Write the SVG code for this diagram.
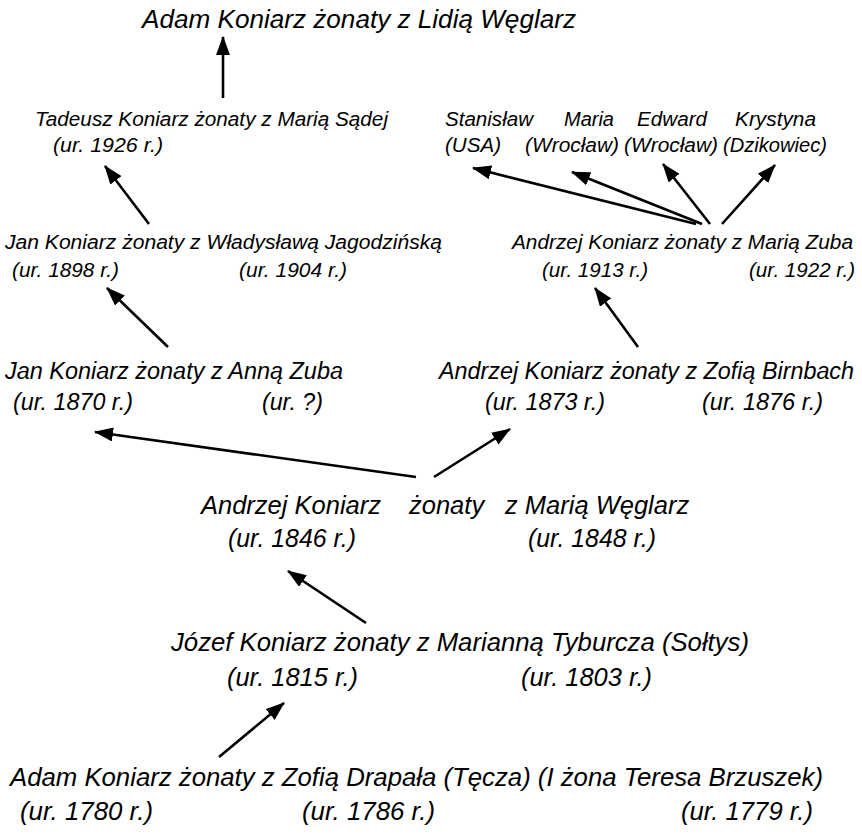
<svg xmlns="http://www.w3.org/2000/svg" width="862" height="834" viewBox="0 0 862 834">
  <style>
    text { font-family: "Liberation Sans", Arial, sans-serif; font-style: italic; fill: #000; }
    .s26 { font-size: 26px; }
    .s21 { font-size: 20.5px; }
    .s23 { font-size: 23px; }
    .s25 { font-size: 25.5px; }
    .edge { stroke: #000; stroke-width: 2.6; fill: none; marker-end: url(#arrow); }
  </style>
  <defs>
    <marker id="arrow" markerUnits="userSpaceOnUse" markerWidth="19" markerHeight="14" refX="18" refY="7" orient="auto">
      <path d="M0,0 L19,7 L0,14 z" fill="#000"/>
    </marker>
  </defs>
  <rect width="862" height="834" fill="#fff"/>

  <g id="adam-lidia">
    <text class="s26" x="142" y="28" textLength="434" lengthAdjust="spacingAndGlyphs">Adam Koniarz żonaty z Lidią Węglarz</text>
  </g>

  <g id="tadeusz">
    <text class="s21" x="35" y="126" textLength="353" lengthAdjust="spacingAndGlyphs">Tadeusz Koniarz żonaty z Marią Sądej</text>
    <text class="s21" x="53" y="152" textLength="110" lengthAdjust="spacingAndGlyphs">(ur. 1926 r.)</text>
  </g>

  <g id="stanislaw">
    <text class="s21" x="445" y="126" textLength="88" lengthAdjust="spacingAndGlyphs">Stanisław</text>
    <text class="s21" x="445" y="152" textLength="56" lengthAdjust="spacingAndGlyphs">(USA)</text>
  </g>
  <g id="maria">
    <text class="s21" x="564" y="126" textLength="50" lengthAdjust="spacingAndGlyphs">Maria</text>
    <text class="s21" x="525" y="152" textLength="94" lengthAdjust="spacingAndGlyphs">(Wrocław)</text>
  </g>
  <g id="edward">
    <text class="s21" x="637" y="126" textLength="70" lengthAdjust="spacingAndGlyphs">Edward</text>
    <text class="s21" x="624" y="152" textLength="94" lengthAdjust="spacingAndGlyphs">(Wrocław)</text>
  </g>
  <g id="krystyna">
    <text class="s21" x="735" y="126" textLength="81" lengthAdjust="spacingAndGlyphs">Krystyna</text>
    <text class="s21" x="723" y="152" textLength="104" lengthAdjust="spacingAndGlyphs">(Dzikowiec)</text>
  </g>

  <g id="jan-wladyslawa">
    <text class="s21" x="5" y="249" textLength="437" lengthAdjust="spacingAndGlyphs">Jan Koniarz żonaty z Władysławą Jagodzińską</text>
    <text class="s21" x="12" y="277" textLength="107" lengthAdjust="spacingAndGlyphs">(ur. 1898 r.)</text>
    <text class="s21" x="239" y="277" textLength="108" lengthAdjust="spacingAndGlyphs">(ur. 1904 r.)</text>
  </g>

  <g id="andrzej-zuba">
    <text class="s21" x="512" y="249" textLength="341" lengthAdjust="spacingAndGlyphs">Andrzej Koniarz żonaty z Marią Zuba</text>
    <text class="s21" x="542" y="277" textLength="106" lengthAdjust="spacingAndGlyphs">(ur. 1913 r.)</text>
    <text class="s21" x="749" y="277" textLength="106" lengthAdjust="spacingAndGlyphs">(ur. 1922 r.)</text>
  </g>

  <g id="jan-anna">
    <text class="s23" x="5" y="379" textLength="338" lengthAdjust="spacingAndGlyphs">Jan Koniarz żonaty z Anną Zuba</text>
    <text class="s23" x="13" y="410" textLength="120" lengthAdjust="spacingAndGlyphs">(ur. 1870 r.)</text>
    <text class="s23" x="262" y="410" textLength="61" lengthAdjust="spacingAndGlyphs">(ur. ?)</text>
  </g>

  <g id="andrzej-birnbach">
    <text class="s23" x="439" y="379" textLength="415" lengthAdjust="spacingAndGlyphs">Andrzej Koniarz żonaty z Zofią Birnbach</text>
    <text class="s23" x="485" y="410" textLength="120" lengthAdjust="spacingAndGlyphs">(ur. 1873 r.)</text>
    <text class="s23" x="702" y="410" textLength="121" lengthAdjust="spacingAndGlyphs">(ur. 1876 r.)</text>
  </g>

  <g id="andrzej-weglarz">
    <text class="s25" y="514"><tspan x="201">Andrzej Koniarz</tspan><tspan x="409">żonaty</tspan><tspan x="505">z Marią Węglarz</tspan></text>
    <text class="s25" x="228" y="547" textLength="128" lengthAdjust="spacingAndGlyphs">(ur. 1846 r.)</text>
    <text class="s25" x="528" y="547" textLength="128" lengthAdjust="spacingAndGlyphs">(ur. 1848 r.)</text>
  </g>

  <g id="jozef-marianna">
    <text class="s25" x="171" y="651" textLength="578" lengthAdjust="spacingAndGlyphs">Józef Koniarz żonaty z Marianną Tyburcza (Sołtys)</text>
    <text class="s25" x="227" y="686" textLength="131" lengthAdjust="spacingAndGlyphs">(ur. 1815 r.)</text>
    <text class="s25" x="521" y="686" textLength="131" lengthAdjust="spacingAndGlyphs">(ur. 1803 r.)</text>
  </g>

  <g id="adam-zofia">
    <text class="s25" x="10" y="786" textLength="813" lengthAdjust="spacingAndGlyphs">Adam Koniarz żonaty z Zofią Drapała (Tęcza) (I żona Teresa Brzuszek)</text>
    <text class="s25" x="20" y="820" textLength="133" lengthAdjust="spacingAndGlyphs">(ur. 1780 r.)</text>
    <text class="s25" x="302" y="820" textLength="133" lengthAdjust="spacingAndGlyphs">(ur. 1786 r.)</text>
    <text class="s25" x="681" y="820" textLength="132" lengthAdjust="spacingAndGlyphs">(ur. 1779 r.)</text>
  </g>

  <g id="connectors">
    <line class="edge" x1="223" y1="98" x2="223" y2="37"/>
    <line class="edge" x1="149" y1="224" x2="105" y2="166"/>
    <line class="edge" x1="696" y1="224" x2="473" y2="168"/>
    <line class="edge" x1="702" y1="224" x2="572" y2="172"/>
    <line class="edge" x1="710" y1="224" x2="663" y2="164"/>
    <line class="edge" x1="722" y1="224" x2="775" y2="165"/>
    <line class="edge" x1="168" y1="347" x2="107" y2="288"/>
    <line class="edge" x1="638" y1="347" x2="595" y2="288"/>
    <line class="edge" x1="416" y1="477" x2="95" y2="432"/>
    <line class="edge" x1="434" y1="477" x2="510" y2="429"/>
    <line class="edge" x1="366" y1="623" x2="288" y2="571"/>
    <line class="edge" x1="219" y1="757" x2="284" y2="703"/>
  </g>
</svg>
